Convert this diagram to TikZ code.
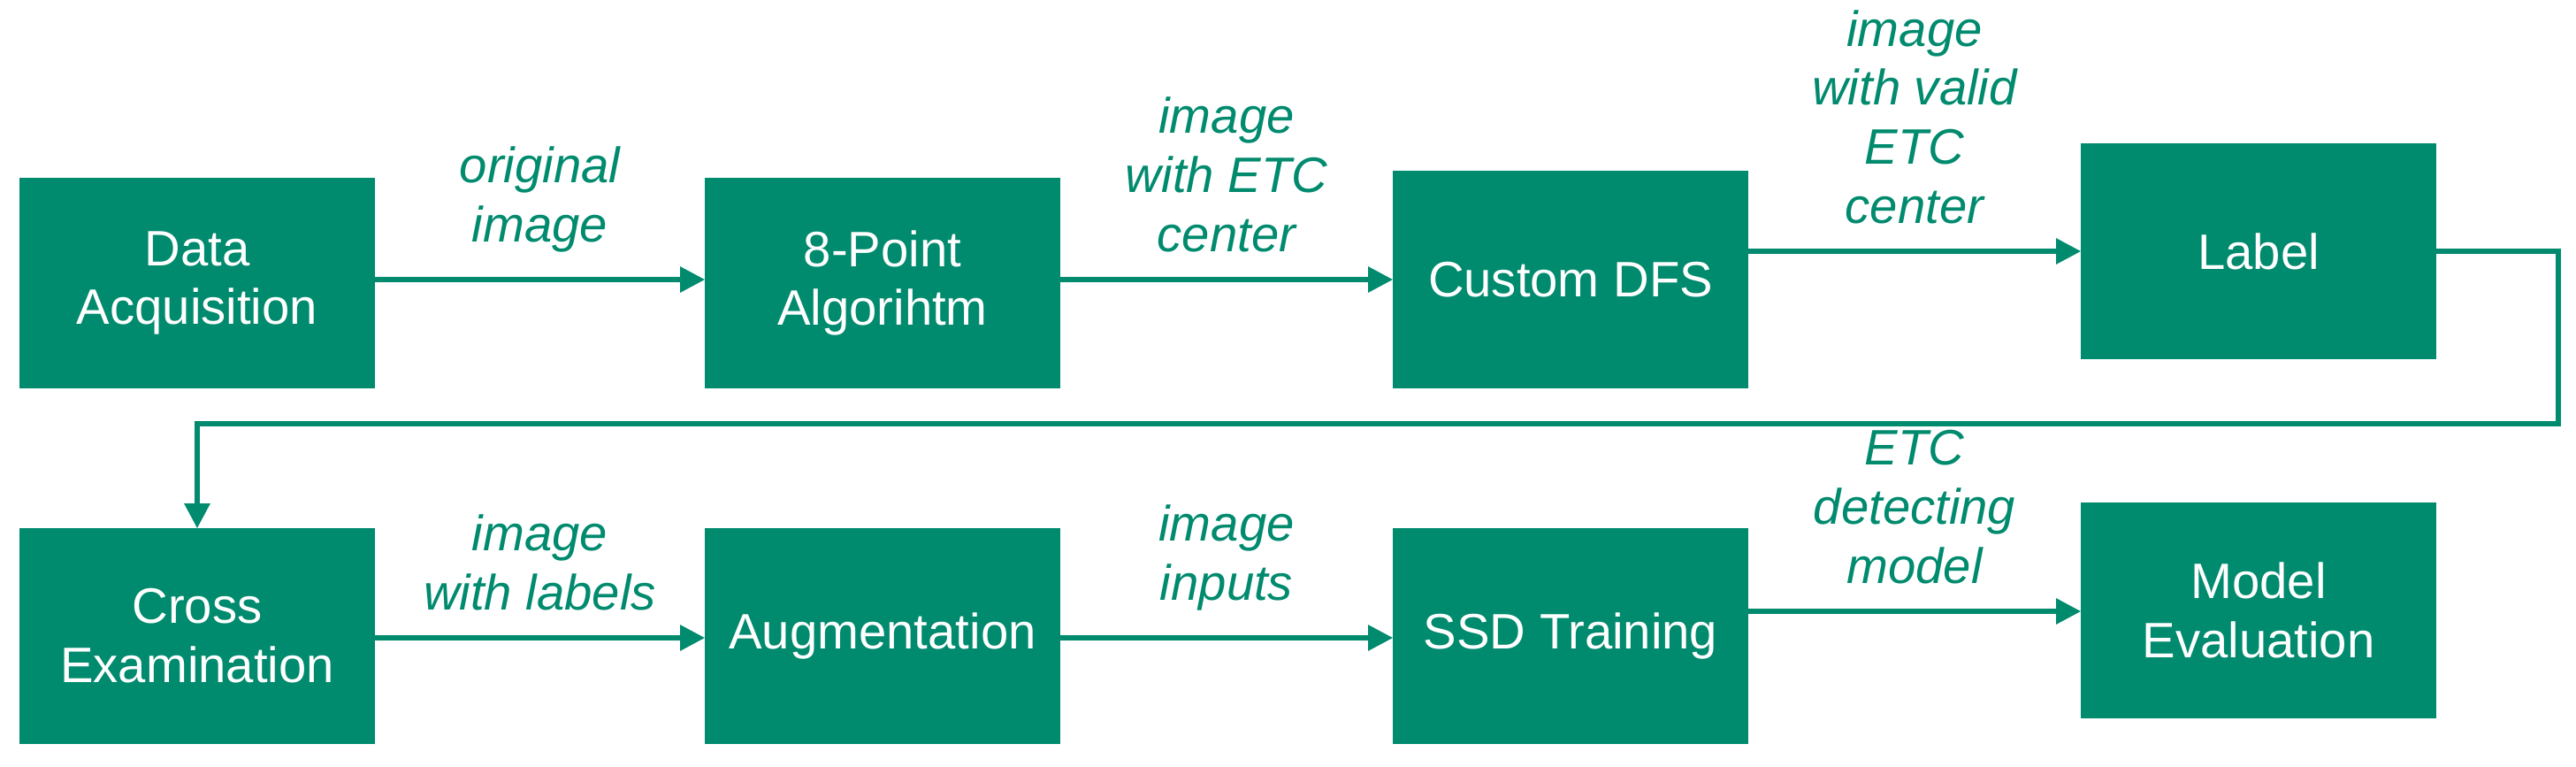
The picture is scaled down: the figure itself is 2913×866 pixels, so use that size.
\documentclass[tikz,border=0pt]{standalone}
\usepackage{fontspec}
\setmainfont{Liberation Sans}
\usetikzlibrary{arrows.meta}
\definecolor{tg}{HTML}{008A6E}
\begin{document}
\begin{tikzpicture}[x=0.01cm,y=-0.01cm,
 box/.style={draw=tg,fill=tg,text=white,minimum width=4cm,align=center,font=\fontsize{16}{19}\selectfont,inner sep=0pt},
 lab/.style={text=tg,align=center,font=\fontsize{16}{19}\selectfont\itshape,anchor=south,inner sep=0pt},
 arr/.style={draw=tg,line width=1.6pt,-{Triangle[length=8pt,width=8pt]}}]
\useasboundingbox (0,0) rectangle (2913,866);
\node[box,minimum height=2.37cm] (da) at (223,320) {Data\\Acquisition};
\node[box,minimum height=2.37cm] (ep) at (998,320) {8-Point\\Algorihtm};
\node[box,minimum height=2.45cm] (dfs) at (1776,316) {Custom DFS};
\node[box,minimum height=2.42cm] (lb) at (2554,284) {Label};
\node[box,minimum height=2.42cm] (ce) at (223,719) {Cross\\Examination};
\node[box,minimum height=2.42cm] (au) at (998,719) {Augmentation};
\node[box,minimum height=2.42cm] (ssd) at (1776,719) {SSD Training};
\node[box,minimum height=2.42cm] (me) at (2554,690) {Model\\Evaluation};
\draw[arr] (da.east |- 0,316) -- node[lab,above=8pt] {original\\image} (ep.west |- 0,316);
\draw[arr] (ep.east |- 0,316) -- node[lab,above=8pt] {image\\with ETC\\center} (dfs.west |- 0,316);
\draw[arr] (dfs.east |- 0,284) -- node[lab,above=8pt] {image\\with valid\\ETC\\center} (lb.west |- 0,284);
\coordinate (c1) at (2893,284);
\coordinate (c2) at (2893,479);
\coordinate (c3) at (223,479);
\draw[arr] (lb.east) -- (c1) -- (c2) -- (c3) -- (ce.north);
\draw[arr] (ce.east |- 0,721) -- node[lab,above=8pt] {image\\with labels} (au.west |- 0,721);
\draw[arr] (au.east |- 0,721) -- node[lab,above=8pt] {image\\inputs} (ssd.west |- 0,721);
\draw[arr] (ssd.east |- 0,691) -- node[lab,above=8pt] {ETC\\detecting\\model} (me.west |- 0,691);
\end{tikzpicture}
\end{document}
